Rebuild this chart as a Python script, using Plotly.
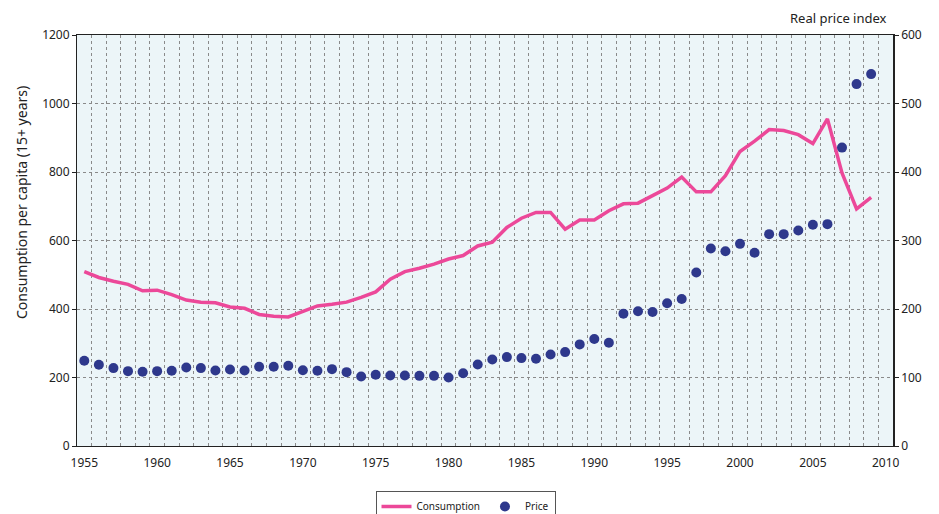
import plotly.graph_objects as go

years = list(range(1955, 2010))
consumption = [509, 492, 481, 472, 453, 455, 442, 426, 420, 418,
               406, 402, 384, 379, 377, 392, 409, 414, 420, 434,
               450, 487, 509, 519, 531, 546, 556, 584, 595, 638,
               665, 682, 682, 633, 660, 660, 687, 707, 709, 731,
               753, 785, 742, 742, 789, 860, 890, 924, 921, 909,
               883, 955, 797, 692, 726]
price = [124.4, 118.5, 113.7, 109.3, 108.3, 109.3, 109.8, 114.6, 113.7, 110.2,
         111.7, 110.2, 115.6, 115.6, 117.1, 110.7, 109.8, 112.2, 107.8, 101.5,
         103.9, 102.9, 102.9, 102.4, 102.4, 100.0, 106.3, 119.0, 126.3, 129.8,
         128.3, 127.3, 133.7, 137.1, 148.3, 156.1, 150.7, 193.2, 196.6, 195.6,
         208.3, 214.6, 253.2, 288.3, 284.4, 295.1, 282.0, 309.3, 309.3, 314.6,
         322.9, 323.9, 435.6, 528.3, 542.9]
x_ticks = [1955, 1960, 1965, 1970, 1975, 1980, 1985, 1990, 1995, 2000, 2005, 2010]
y_left_ticks = [0, 200, 400, 600, 800, 1000, 1200]
y_right_ticks = [0, 100, 200, 300, 400, 500, 600]

PINK = "#EC4899"
BLUE = "#2E388C"
FONT = "Noto Sans"
GRID = "#8a8a8a"
TXT = "#222"

W, H = 931, 506  # page has an 8px body margin

fig = go.Figure()
fig.add_trace(go.Scatter(x=years, y=consumption, name="Consumption", mode="lines",
                         line=dict(color=PINK, width=3.5), yaxis="y"))
fig.add_trace(go.Scatter(x=years, y=price, name="Price", mode="markers",
                         marker=dict(color=BLUE, size=10, line=dict(width=0)), yaxis="y2"))

fig.update_layout(
    width=W, height=H,
    margin=dict(l=69, r=46, t=27, b=68),
    paper_bgcolor="white", plot_bgcolor="#ECF5F8",
    font=dict(family=FONT, size=12, color=TXT),
    showlegend=True,
    legend=dict(orientation="h", x=457.5 / W, xref="container", xanchor="center",
                y=1 - 483 / H, yref="container", yanchor="top",
                bordercolor="#555", borderwidth=1, bgcolor="white",
                font=dict(size=10, family=FONT, color=TXT),
                itemwidth=30, tracegroupgap=0),
    xaxis=dict(range=[1954.5, 2010.5], tickmode="array", tickvals=x_ticks,
               ticktext=[str(v) for v in x_ticks], showgrid=False, zeroline=False,
               showline=True, linecolor="#222", linewidth=1, mirror=True, ticks="",
               automargin=False, ticklabelstandoff=6,
               minor=dict(tick0=1954.5, dtick=1, showgrid=True, gridcolor=GRID,
                          griddash="dot", gridwidth=1, ticks="")),
    yaxis=dict(range=[0, 1200], tickmode="array", tickvals=y_left_ticks,
               showgrid=True, gridcolor=GRID, griddash="dot", gridwidth=1,
               zeroline=False, showline=True, linecolor="#222", linewidth=1,
               ticks="outside", ticklen=4, tickcolor="#222", automargin=False),
    yaxis2=dict(range=[0, 600], tickmode="array", tickvals=y_right_ticks,
                overlaying="y", side="right", showgrid=False, zeroline=False,
                showline=True, linecolor="#222", linewidth=1.5, automargin=False,
                ticks="outside", ticklen=4, tickcolor="#222"),
    annotations=[
        dict(text="Consumption per capita (15+ years)", textangle=-90,
             xref="paper", yref="paper", x=-0.068, y=0.5925, xanchor="center", yanchor="middle",
             showarrow=False, font=dict(size=14, family=FONT, color=TXT)),
        dict(text="Real price index", xref="paper", yref="paper", x=0.995, y=1.041,
             xanchor="right", yanchor="middle", showarrow=False,
             font=dict(size=13, family=FONT, color=TXT)),
    ],
)

fig.write_html("out.html")
